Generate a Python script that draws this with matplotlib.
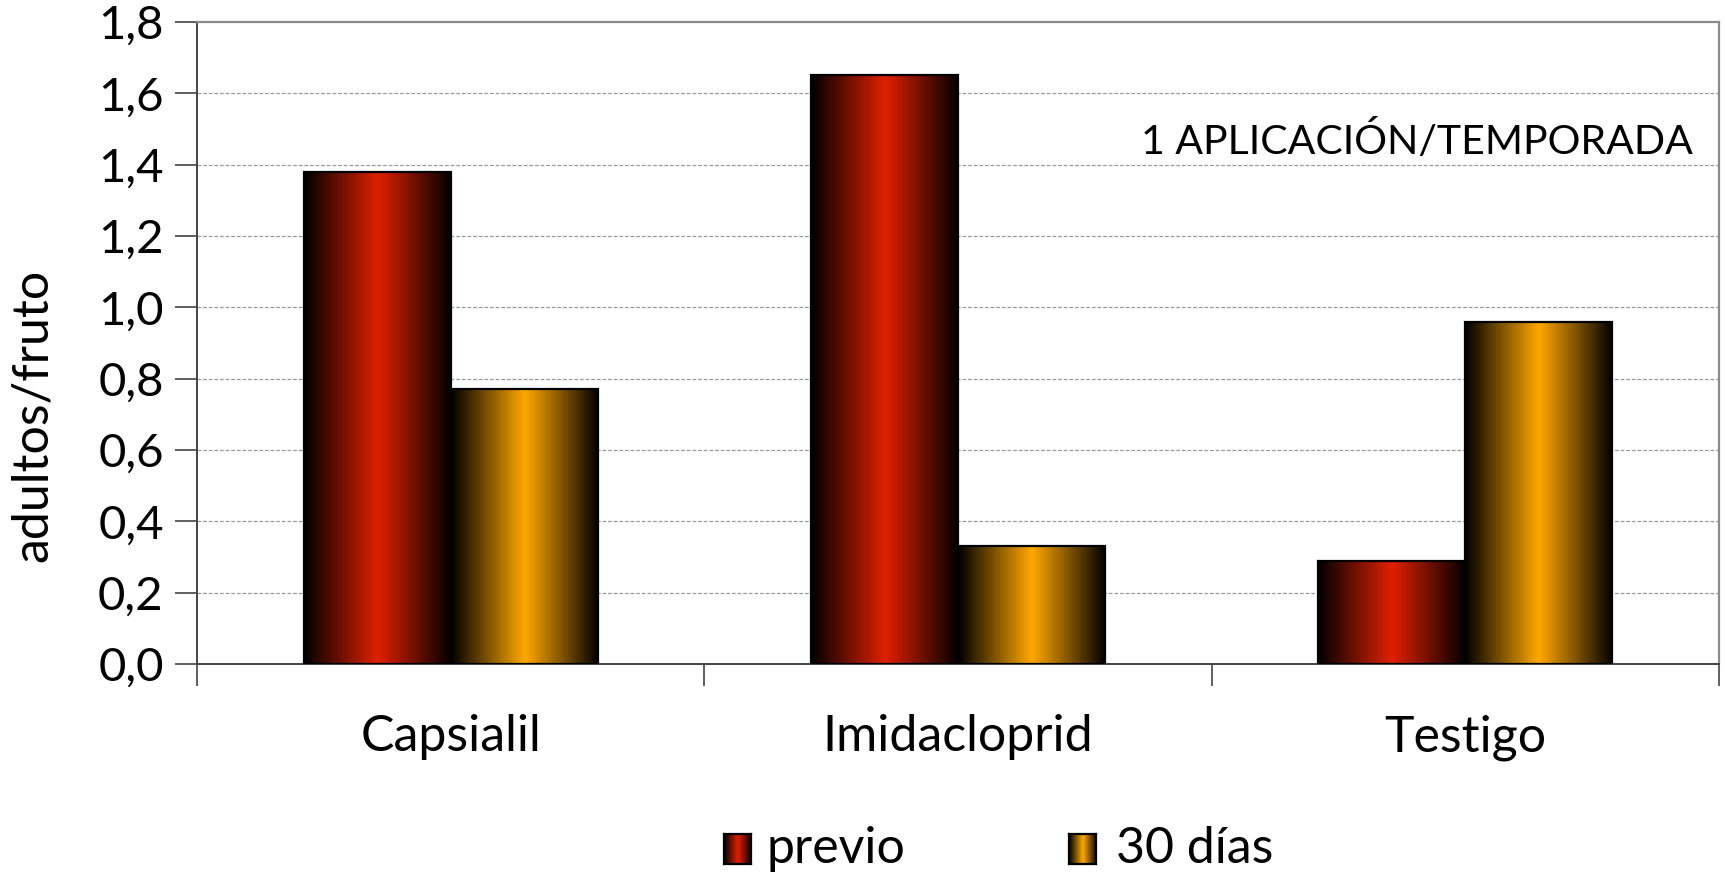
import numpy as np
import matplotlib
matplotlib.use("Agg")
import matplotlib.pyplot as plt
from matplotlib.colors import to_rgb

categories = ["Capsialil", "Imidacloprid", "Testigo"]
series_names = ["previo", "30 días"]
previo = [1.38, 1.65, 0.29]
dias30 = [0.77, 0.33, 0.96]
yticks = [0.0, 0.2, 0.4, 0.6, 0.8, 1.0, 1.2, 1.4, 1.6, 1.8]
ytick_labels = ["0,0", "0,2", "0,4", "0,6", "0,8", "1,0", "1,2", "1,4", "1,6", "1,8"]
series_colors = ["#e02000", "#ffa800"]
note = "1 APLICACIÓN/TEMPORADA"
ylabel = "adultos/fruto"

plt.rcParams["font.family"] = ["Lato", "DejaVu Sans"]

fig = plt.figure(figsize=(17.25, 8.73), dpi=100)
ax = fig.add_axes([0.1142, 0.2394, 0.8823, 0.7354])


def gradient_image(color, n=256):
    x = np.linspace(0, 1, n)
    t = 1 - np.abs(2 * x - 1)
    rgb = np.array(to_rgb(color))
    img = t[:, None] * rgb[None, :]
    return img[None, :, :]


x = np.arange(len(categories))
width = 0.29
series = [previo, dias30]
offsets = [-width / 2, width / 2]

for vals, off, col in zip(series, offsets, series_colors):
    bars = ax.bar(x + off, vals, width, facecolor="none", edgecolor="black",
                  linewidth=1.6, zorder=3)
    img = gradient_image(col)
    for b in bars:
        x0, w, h = b.get_x(), b.get_width(), b.get_height()
        im = ax.imshow(img, extent=[x0, x0 + w, 0, h], aspect="auto",
                       interpolation="bicubic", zorder=2)
        im.set_clip_path(b)

ax.set_xlim(-0.5, len(categories) - 0.5)
ax.set_ylim(0, 1.8)

# Gridlines
ax.set_yticks(yticks)
ax.set_yticklabels(ytick_labels, fontsize=34)
for yv in yticks[1:-1]:
    ax.axhline(yv, color="#9a9a9a", linewidth=0.9, linestyle=(0, (3, 1.5)), zorder=1)

ax.tick_params(axis="y", direction="out", length=16, width=1.2, color="#444444", pad=8)

# Category boundaries as major ticks, names on minor ticks
ax.set_xticks(np.arange(len(categories) + 1) - 0.5)
ax.set_xticklabels([])
ax.tick_params(axis="x", which="major", direction="out", length=16, width=1.2,
               color="#444444")
ax.set_xticks(x, minor=True)
ax.set_xticklabels(categories, minor=True, fontsize=36)
ax.tick_params(axis="x", which="minor", length=0, pad=36)

for side in ["left", "bottom"]:
    ax.spines[side].set_color("#444444")
    ax.spines[side].set_linewidth(1.4)
for side in ["top", "right"]:
    ax.spines[side].set_color("#8a8a8a")
    ax.spines[side].set_linewidth(1.6)

ax.set_ylabel(ylabel, fontsize=36)
ax.yaxis.set_label_coords(-0.093, 0.388)

ax.text(0.983, 0.815, note, transform=ax.transAxes, ha="right", va="center",
        fontsize=29.5)

# Legend below the plot
legend_items = [(0.4195, 0.4445), (0.6195, 0.647)]
for (sx, tx), name, col in zip(legend_items, series_names, series_colors):
    sw = fig.add_axes([sx, 0.0105, 0.016, 0.034])
    sw.imshow(gradient_image(col), aspect="auto", extent=[0, 1, 0, 1],
              interpolation="bicubic")
    sw.set_xticks([])
    sw.set_yticks([])
    for s in sw.spines.values():
        s.set_linewidth(1.6)
        s.set_color("black")
    fig.text(tx, 0.0275, name, fontsize=36, va="center", ha="left")

fig.savefig("out.png", dpi=100)
